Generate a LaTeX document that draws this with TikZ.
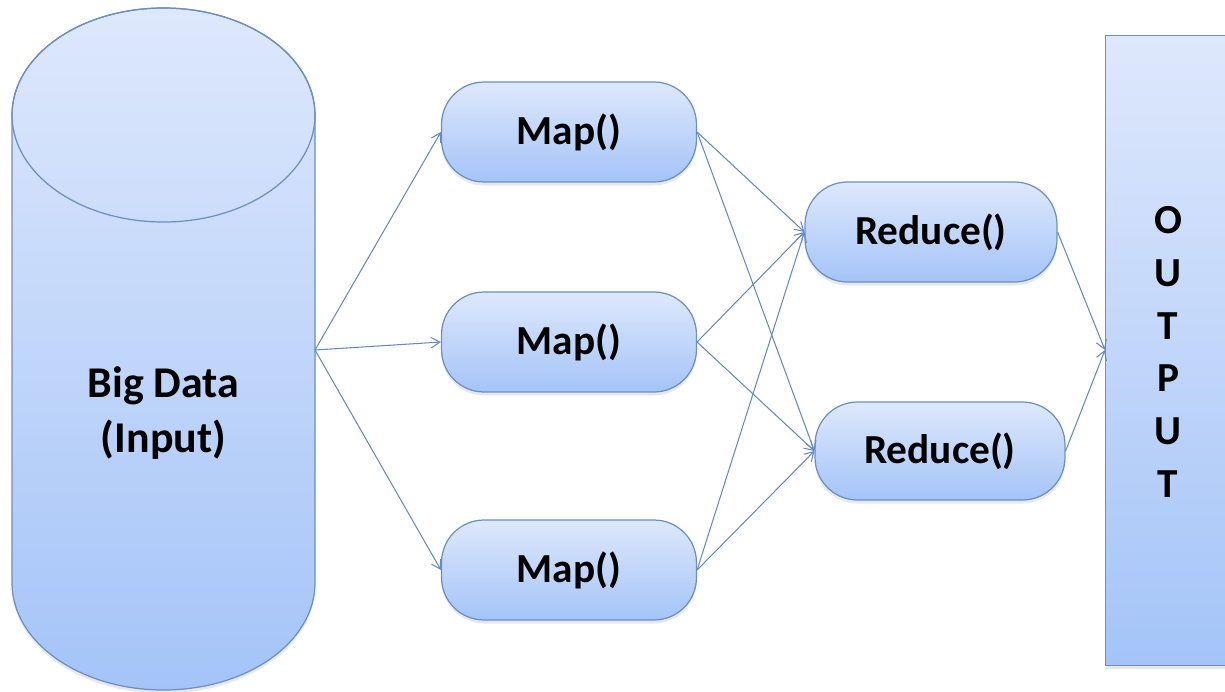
\documentclass[tikz,border=0pt]{standalone}
\usepackage{fontspec}
\setmainfont{Carlito}
\usetikzlibrary{arrows.meta,shadows}
\definecolor{topc}{RGB}{222,232,252}
\definecolor{botc}{RGB}{164,196,248}
\definecolor{edgec}{RGB}{108,142,196}
\definecolor{linec}{RGB}{100,138,196}
\tikzset{
  boxstyle/.style={draw=edgec, line width=0.7pt, top color=topc, bottom color=botc,
    rounded corners=0.85cm, minimum width=5.1cm, minimum height=2cm,
    font=\fontsize{23.5}{26}\selectfont\bfseries,
    drop shadow={opacity=0.18, shadow xshift=0pt, shadow yshift=-2pt}},
  conn/.style={draw=linec, line width=0.6pt, -{Straight Barb[length=5pt,width=6pt]}}
}
\begin{document}
\begin{tikzpicture}[x=0.02cm,y=-0.02cm]
\useasboundingbox (0,0) rectangle (1225,691);
% cylinder
\path[draw=edgec, line width=0.7pt, top color=topc, bottom color=botc,
  drop shadow={opacity=0.18, shadow xshift=0pt, shadow yshift=-2pt}]
  (12,115) -- (12,583) arc[start angle=180, end angle=360, x radius=151.5, y radius=-107]
  -- (315,115) arc[start angle=0, end angle=180, x radius=151.5, y radius=-107] -- cycle;
\draw[edgec, line width=0.7pt] (163.5,115) ellipse[x radius=151.5, y radius=107];
\node[font=\fontsize{25}{31}\selectfont\bfseries, align=center] (bigdata) at (163.5,413) {Big Data\\(Input)};
\coordinate (cylout) at (315,350);
% output
\node[draw=edgec, line width=0.7pt, top color=topc, bottom color=botc, anchor=north west,
  minimum width=3cm, minimum height=12.6cm, inner sep=0pt,
  drop shadow={opacity=0.18, shadow xshift=0pt, shadow yshift=-2pt}] (out) at (1105,35) {};
\node[font=\fontsize{23.5}{30}\selectfont\bfseries, align=center] (outtext) at (1168,352) {O\\U\\T\\P\\U\\T};
\coordinate (outin) at (1105,350);
% maps
\node[boxstyle] (m1) at (569,132) {Map()};
\node[boxstyle] (m2) at (569,342) {Map()};
\node[boxstyle] (m3) at (569,570) {Map()};
\node[boxstyle, minimum width=5.04cm] (r1) at (931,232) {Reduce()};
\node[boxstyle, minimum width=5.0cm, minimum height=1.96cm] (r2) at (940,451) {Reduce()};
% connectors
\draw[conn] (cylout) -- (m1.west);
\draw[conn] (cylout) -- (m2.west);
\draw[conn] (cylout) -- (m3.west);
\foreach \m in {m1,m2,m3}{
  \draw[conn] (\m.east) -- (r1.west);
  \draw[conn] (\m.east) -- (r2.west);
}
\draw[conn] (r1.east) -- (outin);
\draw[conn] (r2.east) -- (outin);
\end{tikzpicture}
\end{document}
